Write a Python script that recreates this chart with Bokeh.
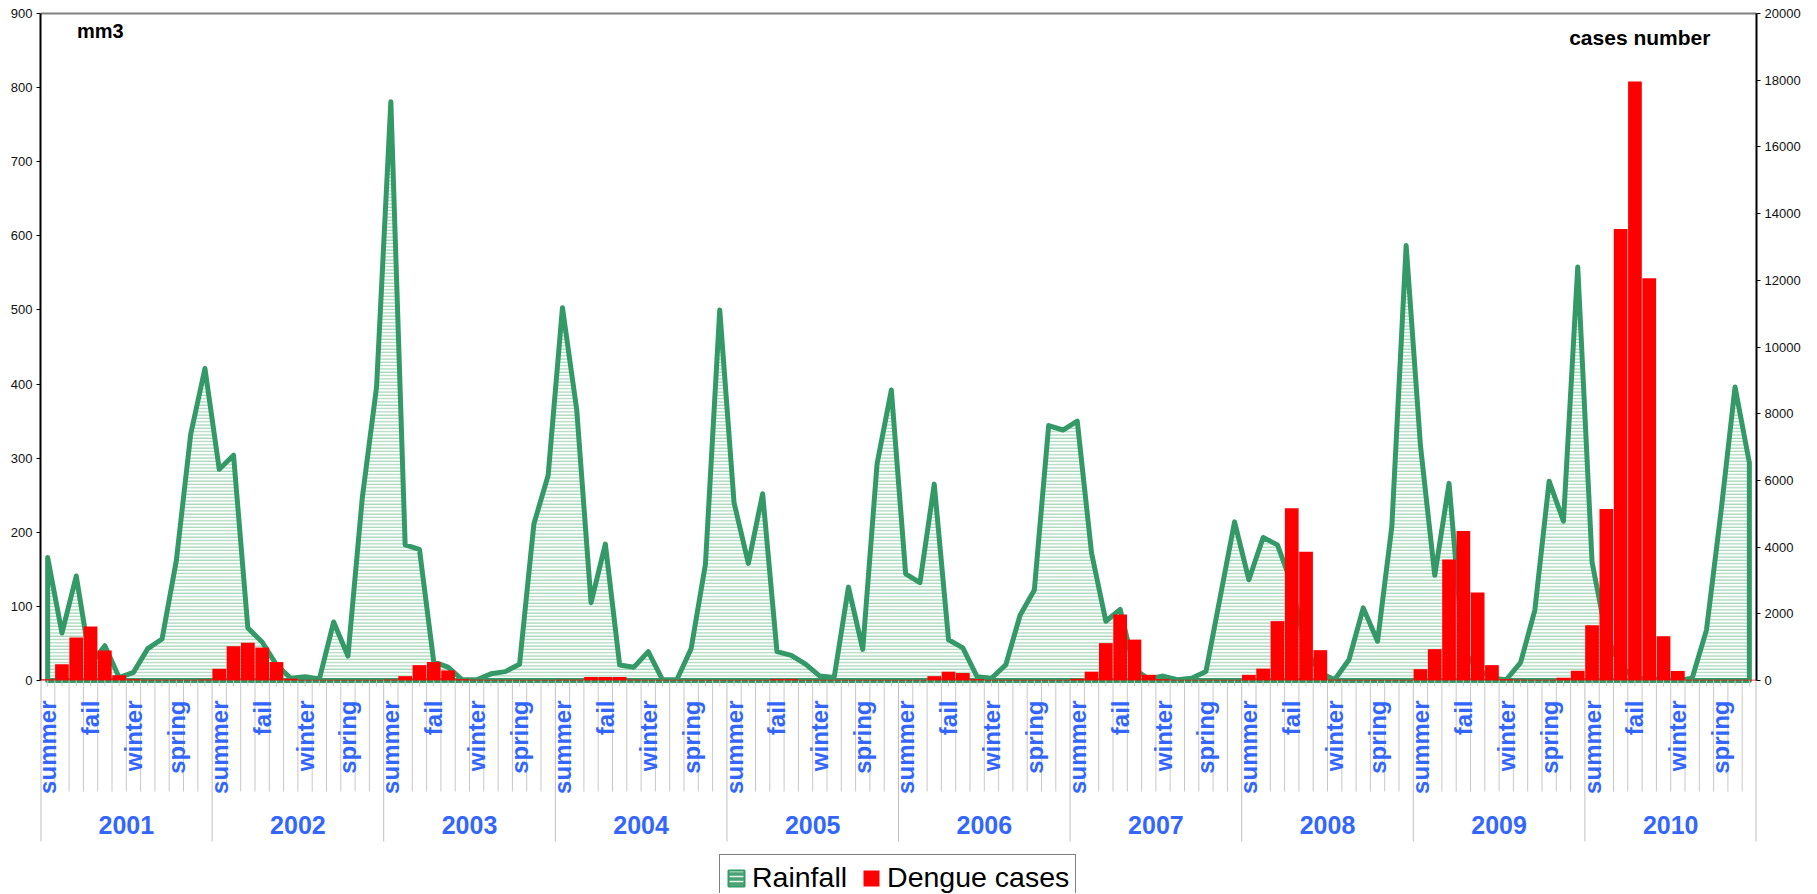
import math
from bokeh.plotting import figure
from bokeh.models import (Range1d, LinearAxis, FixedTicker, Legend, LegendItem, Label)
from bokeh.core.properties import value
from bokeh.embed import file_html
from bokeh.resources import INLINE

# ---------------- data ----------------
years = ["2001", "2002", "2003", "2004", "2005", "2006", "2007", "2008", "2009", "2010"]
seasons = ["summer", "fail", "winter", "spring"]          # label on months 0, 3, 6, 9 of each year
season_months = [0, 3, 6, 9]

rain_2001 = [166, 64, 141, 22, 47, 4, 11, 43, 56, 162, 332, 421]
rain_2002 = [285, 304, 71, 52, 21, 3, 5, 2, 79, 33, 246, 396]
rain_2003 = [781, 183, 177, 25, 18, 1, 1, 9, 12, 22, 211, 277]
rain_2004 = [503, 365, 105, 184, 21, 18, 39, 1, 1, 43, 157, 500]
rain_2005 = [240, 158, 252, 39, 34, 22, 6, 4, 126, 42, 292, 392]
rain_2006 = [144, 132, 265, 55, 44, 5, 3, 21, 88, 122, 344, 338]
rain_2007 = [350, 172, 80, 96, 15, 2, 6, 1, 3, 12, 113, 214]
rain_2008 = [136, 193, 183, 130, 40, 10, 1, 28, 98, 53, 208, 587]
rain_2009 = [317, 142, 266, 40, 15, 3, 1, 24, 95, 269, 215, 558]
rain_2010 = [160, 60, 20, 3, 2, 1, 0, 3, 68, 225, 396, 294]

dengue_2001 = [40, 488, 1292, 1621, 896, 158, 40, 26, 26, 26, 26, 30]
dengue_2002 = [356, 1028, 1133, 988, 553, 53, 20, 20, 20, 20, 20, 20]
dengue_2003 = [30, 130, 460, 553, 303, 40, 25, 20, 20, 20, 20, 20]
dengue_2004 = [26, 26, 105, 105, 105, 26, 20, 20, 20, 20, 20, 20]
dengue_2005 = [20, 20, 20, 40, 40, 20, 20, 20, 20, 20, 20, 20]
dengue_2006 = [20, 20, 130, 264, 224, 40, 20, 20, 20, 20, 20, 20]
dengue_2007 = [50, 264, 1120, 1977, 1226, 171, 40, 20, 20, 20, 20, 20]
dengue_2008 = [171, 356, 1780, 5167, 3862, 910, 26, 20, 20, 20, 20, 20]
dengue_2009 = [340, 940, 3625, 4481, 2636, 461, 40, 26, 26, 26, 80, 290]
dengue_2010 = [1660, 5140, 13536, 17964, 12060, 1330, 285, 26, 26, 26, 26, 26]

rainfall = (rain_2001 + rain_2002 + rain_2003 + rain_2004 + rain_2005 +
            rain_2006 + rain_2007 + rain_2008 + rain_2009 + rain_2010)
dengue = (dengue_2001 + dengue_2002 + dengue_2003 + dengue_2004 + dengue_2005 +
          dengue_2006 + dengue_2007 + dengue_2008 + dengue_2009 + dengue_2010)

left_ticks = [0, 100, 200, 300, 400, 500, 600, 700, 800, 900]
right_ticks = [0, 2000, 4000, 6000, 8000, 10000, 12000, 14000, 16000, 18000, 20000]

# ---------------- layout constants ----------------
N = len(rainfall)
CANVAS_H = 893
FRAME_W, FRAME_H = 1716, CANVAS_H
ZERO_Y = 680                       # canvas y of the zero line
TOP_Y = 13                         # canvas y of 900 mm
PX = (ZERO_Y - TOP_Y) / 900.0      # pixels per mm on the left axis
Y_TOP = 900 + TOP_Y / PX
Y_BOT = -(CANVAS_H - ZERO_Y) / PX
K = 20000.0 / 900.0

GREEN = "#339966"
BLUE = "#3366ff"
FONT = "Liberation Sans"

def px_down(d):
    """data value that lies d pixels below the zero line"""
    return -d / PX

p = figure(frame_width=FRAME_W, frame_height=FRAME_H,
           min_border_left=40, min_border_right=55, min_border_top=0, min_border_bottom=0,
           x_range=Range1d(0, N), y_range=Range1d(Y_BOT, Y_TOP),
           x_axis_location=None, y_axis_location=None,
           output_backend="svg", toolbar_location=None,
           outline_line_color=None, background_fill_color="white", border_fill_color="white")
p.title_location = None
p.extra_y_ranges = {"cases": Range1d(Y_BOT * K, Y_TOP * K)}
p.xgrid.grid_line_color = None
p.ygrid.grid_line_color = None

centers = [i + 0.5 for i in range(N)]

# rainfall area (closed outline incl. baseline)
px_ = [centers[0]] + centers + [centers[-1]]
py_ = [0] + rainfall + [0]
p.patch(px_, py_, fill_color="white", hatch_pattern="horizontal_line",
        hatch_color="#aad7bb", hatch_scale=3.3, hatch_weight=1.3,
        line_color=GREEN, line_width=5, line_join="round")

# dengue bars
bars = p.vbar(x=centers, top=dengue, bottom=0, width=0.96, y_range_name="cases",
              fill_color="#ff0000", line_color=None)

# top grey border
p.segment(x0=[0], y0=[900], x1=[N], y1=[900], line_color="#808080", line_width=2)

# left / right axes
la = LinearAxis(bounds=(0, 900), ticker=FixedTicker(ticks=left_ticks))
ra = LinearAxis(y_range_name="cases", bounds=(0, 20000), ticker=FixedTicker(ticks=right_ticks))
for ax in (la, ra):
    ax.axis_line_color = "black"
    ax.axis_line_width = 2
    ax.major_tick_out = 4
    ax.major_tick_in = 0
    ax.major_tick_line_color = "black"
    ax.minor_tick_out = 0
    ax.minor_tick_in = 0
    ax.major_label_text_font = FONT
    ax.major_label_text_font_size = "13px"
    ax.major_label_text_color = "#111111"
    ax.major_label_standoff = 4
p.add_layout(la, "left")
p.add_layout(ra, "right")

# category axis drawn below the zero line
inner_bounds = [j for j in range(1, N) if j % 12 != 0]
p.segment(x0=inner_bounds, y0=[0] * len(inner_bounds), x1=inner_bounds,
          y1=[px_down(111)] * len(inner_bounds), line_color="#c8c8c8", line_width=1)
year_bounds = [j for j in range(0, N + 1, 12)]
p.segment(x0=year_bounds, y0=[0] * len(year_bounds), x1=year_bounds,
          y1=[px_down(161)] * len(year_bounds), line_color="#c0c0c0",
          line_width=[2 if j in (0, N) else 1 for j in year_bounds])
p.segment(x0=centers, y0=[0] * N, x1=centers, y1=[px_down(6)] * N,
          line_color="#c8c8c8", line_width=1)

s_x, s_t = [], []
for yi in range(len(years)):
    for m, s in zip(season_months, seasons):
        s_x.append(centers[yi * 12 + m])
        s_t.append(s)
p.text(x=s_x, y=[px_down(20)] * len(s_x), text=s_t, angle=math.pi / 2,
       text_align="right", text_baseline="middle",
       text_font=value(FONT), text_font_style="bold", text_font_size="24px",
       text_color=BLUE)

p.text(x=[yi * 12 + 6 for yi in range(len(years))], y=[px_down(144)] * len(years),
       text=years, text_align="center", text_baseline="middle",
       text_font=value(FONT), text_font_style="bold", text_font_size="25px",
       text_color=BLUE)

# unit labels
p.add_layout(Label(x=2.55, y=877, text="mm3", text_font=FONT, text_font_style="bold",
                   text_font_size="20px", text_baseline="middle", text_color="black"))
p.add_layout(Label(x=106.9, y=868, text="cases number", text_font=FONT,
                   text_font_style="bold", text_font_size="21px",
                   text_baseline="middle", text_color="black"))

# legend (key glyph for the rainfall area uses a renderer with no drawable data)
nan = float("nan")
rain_key = p.quad(left=[nan], right=[nan], top=[nan], bottom=[nan], fill_color="#4aa276",
                  hatch_pattern="horizontal_line", hatch_color="#e6f4ea",
                  hatch_scale=5, hatch_weight=1.5,
                  line_color=GREEN, line_width=2)
legend = Legend(items=[LegendItem(label=value("Rainfall"), renderers=[rain_key]),
                       LegendItem(label=value("Dengue cases"), renderers=[bars])],
                orientation="horizontal", location=(679, -8),
                label_text_font=FONT, label_text_font_size="28.5px",
                label_text_color="black",
                glyph_width=20, glyph_height=20, label_standoff=6, spacing=14,
                padding=6, margin=0, border_line_color="black", border_line_width=1,
                background_fill_color="white", background_fill_alpha=1.0)
p.add_layout(legend)

open("out.html", "w").write(file_html(p, INLINE))
